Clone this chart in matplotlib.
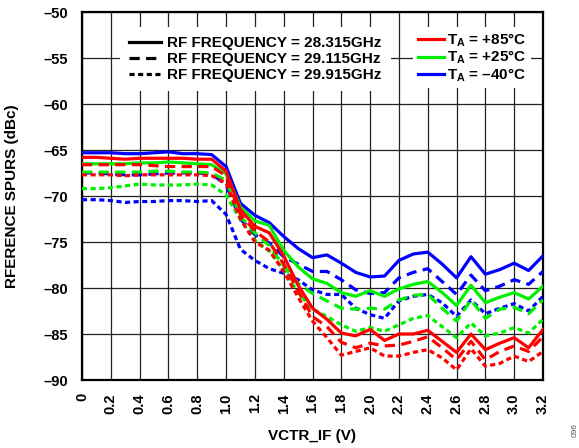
import matplotlib
matplotlib.use("Agg")
import matplotlib.pyplot as plt
from matplotlib.lines import Line2D

plt.rcParams['font.family'] = ['Liberation Sans', 'DejaVu Sans']
plt.rcParams['font.weight'] = 'bold'
plt.rcParams['mathtext.fontset'] = 'custom'
plt.rcParams['mathtext.rm'] = 'Liberation Sans:bold'
plt.rcParams['mathtext.bf'] = 'Liberation Sans:bold'

vctr = [round(0.1 * i, 1) for i in range(33)]

# T = -40 C (blue)
blue_28315 = [-65.3, -65.3, -65.3, -65.4, -65.4, -65.3, -65.2, -65.4, -65.4, -65.5,
              -66.8, -70.8, -72.1, -72.9, -74.4, -75.7, -76.7, -76.4, -77.3, -78.3,
              -78.8, -78.7, -77.0, -76.3, -76.1, -77.4, -78.9, -76.6, -78.5, -78.0,
              -77.3, -78.1, -76.5]
blue_29115 = [-67.5, -67.5, -67.6, -67.7, -67.7, -67.6, -67.5, -67.5, -67.5, -67.6,
              -68.8, -72.5, -74.2, -75.1, -76.6, -77.4, -78.2, -78.2, -79.1, -80.2,
              -80.6, -80.5, -78.9, -78.3, -77.9, -79.3, -80.7, -78.6, -80.3, -79.8,
              -79.1, -79.6, -78.2]
blue_29915 = [-70.4, -70.4, -70.5, -70.7, -70.6, -70.6, -70.5, -70.5, -70.6, -70.5,
              -72.0, -75.8, -77.0, -77.9, -78.4, -79.1, -80.2, -80.7, -80.7, -82.2,
              -82.9, -83.3, -81.4, -80.9, -80.7, -81.6, -83.1, -81.3, -82.8, -82.2,
              -81.7, -82.5, -80.9]
# T = +25 C (green)
green_28315 = [-66.5, -66.5, -66.5, -66.5, -66.4, -66.4, -66.3, -66.4, -66.5, -66.6,
               -67.6, -71.2, -72.7, -73.2, -75.9, -77.7, -79.0, -79.5, -80.5, -80.9,
               -80.3, -80.9, -80.1, -79.6, -79.3, -80.5, -81.9, -79.7, -81.6, -81.0,
               -80.5, -81.2, -79.8]
green_29115 = [-67.4, -67.4, -67.4, -67.4, -67.4, -67.3, -67.3, -67.4, -67.4, -67.5,
               -68.3, -72.2, -74.0, -75.4, -77.6, -79.5, -80.6, -81.4, -82.2, -82.3,
               -82.2, -82.3, -81.3, -80.8, -80.7, -82.2, -83.6, -81.3, -83.3, -82.3,
               -82.1, -82.8, -81.3]
green_29915 = [-69.2, -69.2, -69.1, -68.9, -68.7, -68.8, -68.8, -68.8, -68.7, -68.8,
               -69.9, -72.6, -74.8, -76.0, -78.0, -80.5, -82.3, -83.1, -84.0, -84.7,
               -84.3, -84.7, -84.0, -83.3, -83.0, -84.2, -85.4, -83.8, -85.2, -84.9,
               -84.3, -84.9, -83.4]
# T = +85 C (red)
red_28315 = [-65.8, -65.8, -65.9, -66.0, -65.9, -65.9, -65.9, -65.9, -66.0, -66.0,
             -67.3, -71.5, -73.3, -74.0, -76.5, -79.7, -82.2, -83.4, -84.9, -85.2,
             -84.5, -85.7, -85.0, -85.0, -84.6, -85.8, -87.0, -85.0, -86.7, -86.0,
             -85.4, -86.5, -84.5]
red_29115 = [-66.6, -66.6, -66.6, -66.6, -66.6, -66.7, -66.8, -66.8, -66.8, -66.8,
             -67.8, -72.0, -73.8, -75.0, -77.4, -80.3, -83.1, -84.2, -85.9, -86.5,
             -86.0, -86.3, -86.2, -85.8, -85.3, -86.5, -87.8, -85.8, -87.8, -86.9,
             -86.3, -86.9, -85.3]
red_29915 = [-67.7, -67.7, -67.7, -67.8, -67.7, -67.7, -67.7, -67.7, -67.7, -67.8,
             -68.6, -72.5, -75.0, -75.9, -78.2, -81.0, -83.6, -85.4, -87.3, -86.9,
             -86.5, -87.4, -87.4, -87.0, -86.7, -87.6, -88.9, -86.6, -88.5, -88.2,
             -87.4, -88.0, -86.9]

freq_labels = ["RF FREQUENCY = 28.315GHz", "RF FREQUENCY = 29.115GHz", "RF FREQUENCY = 29.915GHz"]
temp_labels = [r"$\mathrm{T_A}$ = +85°C", r"$\mathrm{T_A}$ = +25°C", r"$\mathrm{T_A}$ = –40°C"]
xticks = [0, 0.2, 0.4, 0.6, 0.8, 1.0, 1.2, 1.4, 1.6, 1.8, 2.0, 2.2, 2.4, 2.6, 2.8, 3.0, 3.2]
xtick_labels = ["0", "0.2", "0.4", "0.6", "0.8", "1.0", "1.2", "1.4", "1.6", "1.8",
                "2.0", "2.2", "2.4", "2.6", "2.8", "3.0", "3.2"]
yticks = [-90, -85, -80, -75, -70, -65, -60, -55, -50]
ytick_labels = ["–90", "–85", "–80", "–75", "–70", "–65", "–60", "–55", "–50"]

RED, GREEN, BLUE = "#ff0000", "#00f000", "#0000ff"
styles = ["-", (0, (3.2, 2.0)), (0, (1.6, 1.1))]
LW = 2.3

fig = plt.figure(figsize=(5.79, 4.48), dpi=100)
ax = fig.add_axes([82 / 579, (448 - 380) / 448, 461 / 579, 368 / 448])

groups = [(BLUE, [blue_28315, blue_29115, blue_29915]),
          (GREEN, [green_28315, green_29115, green_29915]),
          (RED, [red_28315, red_29115, red_29915])]
for color, series in groups:
    for ys, ls in zip(series, styles):
        ax.plot(vctr, ys, color=color, linestyle=ls, linewidth=LW, zorder=3)

ax.set_xlim(0, 3.2)
ax.set_ylim(-90, -50)
ax.set_xticks(xticks)
ax.set_xticklabels(xtick_labels, rotation=90, fontsize=10.5, fontweight='bold')
ax.set_yticks(yticks)
ax.set_yticklabels(ytick_labels, fontsize=10.5, fontweight='bold')
ax.tick_params(axis='x', length=0, pad=9.5)
ax.tick_params(axis='y', length=0, pad=10)
ax.grid(True, color="#222222", linewidth=0.9, zorder=1)
ax.set_axisbelow(True)
for sp in ax.spines.values():
    sp.set_linewidth(1.6)
    sp.set_color("black")

ax.set_xlabel("VCTR_IF (V)", fontsize=11, fontweight='bold', labelpad=11)
ax.set_ylabel("RFERENCE SPURS (dBc)", fontsize=11, fontweight='bold')
ax.yaxis.set_label_coords((19 - 82) / 461, 0.5)

h1 = [Line2D([], [], color="black", linestyle=ls, linewidth=LW) for ls in styles]
leg1 = ax.legend(h1, freq_labels, loc="upper left", bbox_to_anchor=(0.082, 0.959),
                 frameon=True, facecolor="white", edgecolor="none", framealpha=1,
                 fancybox=False, prop={'size': 11, 'weight': 'bold'},
                 handlelength=2.1, handletextpad=0.4, labelspacing=0.12,
                 borderpad=0.6, borderaxespad=0)
leg1.set_zorder(5)
ax.add_artist(leg1)

h2 = [Line2D([], [], color=c, linestyle="-", linewidth=LW) for c in (RED, GREEN, BLUE)]
leg2 = ax.legend(h2, temp_labels, loc="upper left", bbox_to_anchor=(0.718, 0.959),
                 frameon=True, facecolor="white", edgecolor="none", framealpha=1,
                 fancybox=False, prop={'size': 11, 'weight': 'bold'},
                 handlelength=1.7, handletextpad=0.2, labelspacing=0.0,
                 borderpad=0.3, borderaxespad=0)
leg2.set_zorder(5)

fig.text(575 / 579, 1 - 430 / 448, "096", rotation=90, fontsize=6, color="#555555",
         fontweight='normal', ha="center", va="center")

fig.savefig("out.png", dpi=100)
